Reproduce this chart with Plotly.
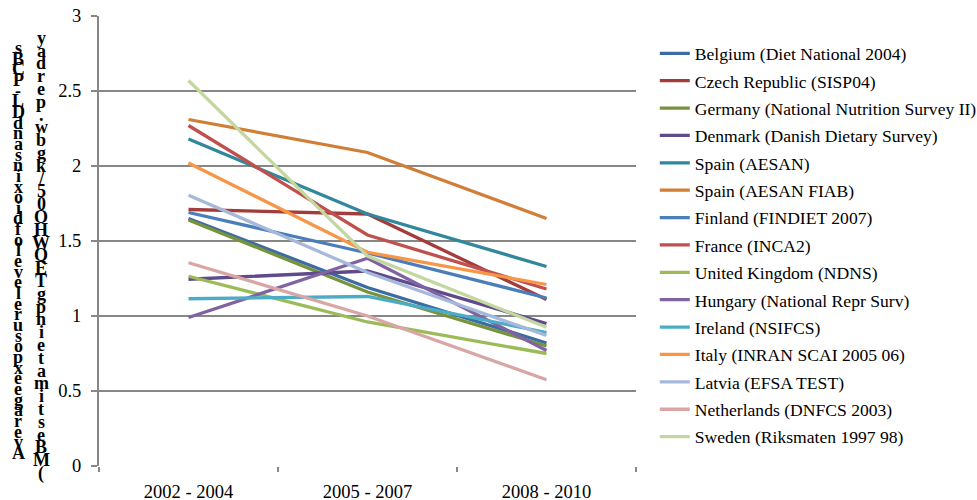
import plotly.graph_objects as go

periods = ["2002 - 2004", "2005 - 2007", "2008 - 2010"]

belgium = [1.65, 1.19, 0.82]
czech = [1.71, 1.68, 1.11]
germany = [1.64, 1.16, 0.80]
denmark = [1.245, 1.30, 0.95]
spain = [2.18, 1.68, 1.33]
spain_fiab = [2.31, 2.09, 1.65]
finland = [1.69, 1.42, 1.12]
france = [2.27, 1.54, 1.18]
uk = [1.265, 0.96, 0.75]
hungary = [0.99, 1.385, 0.77]
ireland = [1.115, 1.13, 0.89]
italy = [2.02, 1.425, 1.21]
latvia = [1.805, 1.29, 0.87]
netherlands = [1.355, 1.00, 0.575]
sweden = [2.57, 1.40, 0.925]

series_names = [
    "Belgium (Diet National 2004)",
    "Czech Republic (SISP04)",
    "Germany (National Nutrition Survey II)",
    "Denmark (Danish Dietary Survey)",
    "Spain (AESAN)",
    "Spain (AESAN FIAB)",
    "Finland (FINDIET 2007)",
    "France (INCA2)",
    "United Kingdom (NDNS)",
    "Hungary (National Repr Surv)",
    "Ireland (NSIFCS)",
    "Italy (INRAN SCAI 2005 06)",
    "Latvia (EFSA TEST)",
    "Netherlands (DNFCS 2003)",
    "Sweden (Riksmaten 1997 98)",
]
series_values = [belgium, czech, germany, denmark, spain, spain_fiab, finland,
                 france, uk, hungary, ireland, italy, latvia, netherlands, sweden]
series_colors = [
    "#3D6BA3", "#A33D3B", "#77933C", "#5F4A8B", "#31879C", "#D17E36",
    "#4A7EBB", "#C0504D", "#9BBB59", "#8064A2", "#4BACC6", "#F79646",
    "#A7B9DA", "#D9A6A5", "#C4D7A0",
]

y_title_left = "Average exposure level of dioxins and DL-PCBs"
y_title_right = "(MB estimate in pg TEQWHO05/kg bw. per day"

FONT = "Liberation Serif, Times New Roman, serif"

# plot area in pixels (used to place the stacked title letters)
PL, PR, PT, PB = 99, 636, 16, 466

fig = go.Figure()
for name, vals, col in zip(series_names, series_values, series_colors):
    fig.add_trace(go.Scatter(
        x=periods, y=vals, name=name, mode="lines",
        line=dict(color=col, width=3.3),
        legendgroup=name,
    ))

# Stacked upright letters for the vertical axis title, read bottom to top
def stacked_title(text, x_px, y_bottom_px, step_px):
    chars = [c for c in text if c != " "]
    for i, c in enumerate(chars):
        fig.add_annotation(
            xref="paper", yref="paper",
            x=(x_px - PL) / (PR - PL),
            y=(PB - (y_bottom_px - i * step_px)) / (PB - PT),
            text="<b>%s</b>" % c, showarrow=False,
            font=dict(family=FONT, size=18, color="black"),
            xanchor="center", yanchor="middle",
        )

stacked_title(y_title_left, 18, 453, 10.66)
stacked_title(y_title_right, 41, 473, 12.8)

grid_col = "#878787"
fig.update_layout(
    width=977, height=500,
    margin=dict(l=PL, r=977 - PR, t=PT, b=500 - PB, autoexpand=False),
    paper_bgcolor="white", plot_bgcolor="white",
    font=dict(family=FONT, size=17.6, color="black"),
    showlegend=True,
    legend=dict(
        x=1.035, xanchor="left", y=0.957, yanchor="top",
        font=dict(family=FONT, size=17.6, color="black"),
        tracegroupgap=1.5, itemwidth=30,
        bgcolor="rgba(0,0,0,0)",
    ),
    xaxis=dict(
        type="category", range=[-0.5, 2.5], showgrid=False, showline=False,
        ticks="outside", tickson="boundaries", ticklen=5, tickcolor=grid_col,
        tickwidth=2,
        tickfont=dict(family=FONT, size=18.5, color="black"),
        ticklabelstandoff=12, zeroline=False,
    ),
    yaxis=dict(
        range=[0, 3], dtick=0.5, showgrid=True, gridcolor=grid_col, gridwidth=2,
        showline=True, linecolor=grid_col, linewidth=2,
        ticks="outside", ticklen=6, tickcolor=grid_col, tickwidth=2,
        tickfont=dict(family=FONT, size=18.5, color="black"),
        ticklabelstandoff=6, zeroline=False,
    ),
)

fig.write_html("out.html")
